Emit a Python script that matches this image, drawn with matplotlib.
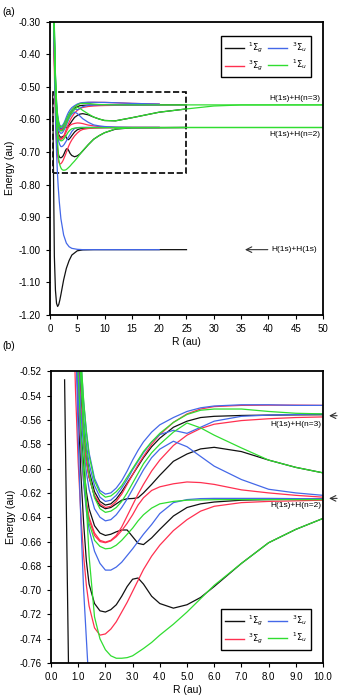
import numpy as np
import matplotlib
matplotlib.use('Agg')
import matplotlib.pyplot as plt
from matplotlib.patches import Rectangle
from matplotlib.lines import Line2D

plt.rcParams['font.family'] = ['Liberation Sans', 'DejaVu Sans']
plt.rcParams['axes.unicode_minus'] = False

nan = np.nan

# internuclear distance grid (au) used by the excited states
R = [0.7, 0.8, 0.9, 1.0, 1.1, 1.2, 1.3, 1.4, 1.6, 1.8,
     2.0, 2.2, 2.4, 2.6, 2.8, 3.0, 3.2, 3.4, 3.7, 4.0,
     4.5, 5.0, 5.5, 6.0, 7.0, 8.0, 9.0, 10.0, 12.0, 15.0,
     20.0, 25.0, 30.0, 35.0, 50.0]

# ground state X 1Sigma_g
R_X = [0.5, 0.8, 1.0, 1.2, 1.4, 1.6, 1.8, 2.0, 2.5, 3.0, 3.5, 4.0, 5.0, 6.0, 8.0, 10.0, 15.0, 20.0, 25.0]
E_X = [-0.527, -1.020, -1.1245, -1.1649, -1.1745, -1.1686, -1.1551, -1.1381, -1.0929, -1.0573,
       -1.0336, -1.0166, -1.0035, -1.0008, -1.0, -1.0, -1.0, -1.0, -1.0]

# repulsive b 3Sigma_u
R_b = [0.9, 1.0, 1.1, 1.2, 1.35, 1.5, 1.7, 2.0, 2.5, 3.0, 3.5, 4.0, 5.0, 6.0, 8.0, 10.0, 15.0, 20.0]
E_b = [-0.48, -0.575, -0.645, -0.700, -0.760, -0.805, -0.852, -0.905, -0.955, -0.980,
       -0.991, -0.996, -0.999, -1.0, -1.0, -1.0, -1.0, -1.0]

# 1Sigma_g excited
sg1_EF = [-0.30, -0.40, -0.48, -0.55, -0.605, -0.645, -0.676, -0.695, -0.711, -0.717,
          -0.718, -0.716, -0.712, -0.705, -0.697, -0.691, -0.690, -0.695, -0.705, -0.711,
          -0.7148, -0.712, -0.706, -0.697, -0.678, -0.661, -0.650, -0.641, -0.630, -0.626,
          -0.6255, -0.625, nan, nan, nan]
sg1_GK = [-0.28, -0.38, -0.465, -0.525, -0.568, -0.598, -0.619, -0.633, -0.647, -0.653,
          -0.655, -0.654, -0.652, -0.6505, -0.6505, -0.656, -0.6615, -0.6625, -0.657, -0.650,
          -0.639, -0.632, -0.629, -0.6275, -0.626, -0.6255, -0.6252, -0.625, -0.625, -0.625,
          -0.625, -0.625, nan, nan, nan]
sg1_HH = [-0.26, -0.36, -0.445, -0.503, -0.544, -0.572, -0.593, -0.607, -0.623, -0.6305,
          -0.633, -0.632, -0.629, -0.626, -0.6248, -0.6246, -0.624, -0.620, -0.613, -0.6055,
          -0.594, -0.588, -0.5838, -0.5825, -0.586, -0.593, -0.599, -0.6035, -0.6045, -0.595,
          -0.578, -0.568, nan, nan, nan]
sg1_n3 = [-0.25, -0.35, -0.435, -0.494, -0.536, -0.566, -0.587, -0.602, -0.619, -0.627,
          -0.630, -0.629, -0.625, -0.619, -0.612, -0.605, -0.598, -0.591, -0.582, -0.575,
          -0.566, -0.561, -0.558, -0.557, -0.5563, -0.556, -0.5558, -0.5557, -0.5556, -0.5556,
          -0.5556, -0.5556, nan, nan, nan]

# 3Sigma_g
sg3_a = [-0.27, -0.37, -0.452, -0.508, -0.547, -0.574, -0.594, -0.607, -0.622, -0.629,
         -0.632, -0.631, -0.627, -0.621, -0.613, -0.605, -0.597, -0.590, -0.580, -0.572,
         -0.562, -0.555, -0.551, -0.549, -0.548, -0.5478, -0.5478, -0.548, -0.549, -0.551,
         -0.553, nan, nan, nan, nan]
sg3_b = [-0.30, -0.40, -0.48, -0.538, -0.578, -0.607, -0.627, -0.640, -0.653, -0.659,
         -0.6605, -0.659, -0.655, -0.648, -0.639, -0.630, -0.621, -0.613, -0.602, -0.593,
         -0.581, -0.5725, -0.567, -0.5635, -0.5605, -0.559, -0.558, -0.5575, -0.557, -0.5563,
         -0.556, nan, nan, nan, nan]
sg3_c = [-0.31, -0.41, -0.488, -0.544, -0.583, -0.611, -0.630, -0.642, -0.655, -0.660,
         -0.661, -0.6595, -0.656, -0.651, -0.645, -0.638, -0.630, -0.624, -0.618, -0.615,
         -0.6125, -0.611, -0.6115, -0.613, -0.6175, -0.620, -0.622, -0.6235, -0.6245, -0.625,
         -0.625, nan, nan, nan, nan]
sg3_d = [-0.34, -0.45, -0.535, -0.595, -0.639, -0.672, -0.696, -0.713, -0.731, -0.737,
         -0.736, -0.732, -0.726, -0.718, -0.710, -0.701, -0.692, -0.683, -0.672, -0.663,
         -0.651, -0.642, -0.635, -0.631, -0.628, -0.627, -0.6265, -0.626, -0.6255, -0.625,
         -0.625, nan, nan, nan, nan]

# 3Sigma_u excited
su3_a = [-0.22, -0.32, -0.405, -0.466, -0.511, -0.545, -0.569, -0.587, -0.608, -0.618,
         -0.621, -0.620, -0.616, -0.610, -0.602, -0.593, -0.585, -0.578, -0.570, -0.564,
         -0.558, -0.553, -0.550, -0.5485, -0.5475, -0.5475, -0.548, -0.548, -0.549, -0.551,
         -0.553, nan, nan, nan, nan]
su3_b = [-0.24, -0.34, -0.425, -0.485, -0.528, -0.558, -0.580, -0.596, -0.614, -0.6235,
         -0.627, -0.626, -0.622, -0.616, -0.609, -0.601, -0.594, -0.587, -0.578, -0.572,
         -0.5685, -0.571, -0.566, -0.561, -0.557, -0.556, -0.5555, -0.555, -0.5555, -0.5556,
         -0.5556, nan, nan, nan, nan]
su3_c = [-0.27, -0.37, -0.455, -0.514, -0.555, -0.583, -0.603, -0.617, -0.633, -0.640,
         -0.643, -0.642, -0.638, -0.632, -0.625, -0.617, -0.609, -0.601, -0.591, -0.584,
         -0.5775, -0.582, -0.590, -0.598, -0.609, -0.617, -0.620, -0.622, -0.624, -0.625,
         -0.625, nan, nan, nan, nan]
su3_d = [-0.31, -0.41, -0.49, -0.540, -0.580, -0.612, -0.635, -0.650, -0.668, -0.678,
         -0.6835, -0.6835, -0.681, -0.677, -0.6715, -0.666, -0.660, -0.654, -0.646, -0.637,
         -0.628, -0.6255, -0.6247, -0.6245, -0.6245, -0.6245, -0.6247, -0.625, -0.625, -0.625,
         -0.625, nan, nan, nan, nan]

# 1Sigma_u
su1_B = [-0.25, -0.34, -0.41, -0.47, -0.515, -0.575, -0.63, -0.672, -0.722, -0.740,
         -0.749, -0.754, -0.756, -0.756, -0.7555, -0.754, -0.751, -0.748, -0.743, -0.737,
         -0.728, -0.718, -0.707, -0.696, -0.678, -0.661, -0.650, -0.641, -0.629, -0.626,
         -0.6255, -0.625, -0.625, -0.625, -0.625]
su1_C = [-0.25, -0.36, -0.455, -0.522, -0.571, -0.606, -0.630, -0.645, -0.659, -0.664,
         -0.666, -0.6655, -0.663, -0.659, -0.654, -0.649, -0.643, -0.638, -0.6325, -0.629,
         -0.627, -0.626, -0.6258, -0.6256, -0.6255, -0.6255, -0.6255, -0.6255, -0.6252, -0.625,
         -0.625, -0.625, -0.625, -0.625, -0.625]
su1_BB = [-0.21, -0.32, -0.415, -0.48, -0.527, -0.562, -0.587, -0.604, -0.624, -0.633,
          -0.636, -0.635, -0.632, -0.627, -0.620, -0.612, -0.604, -0.596, -0.587, -0.580,
          -0.570, -0.5625, -0.5665, -0.5725, -0.583, -0.593, -0.599, -0.6035, -0.6045, -0.595,
          -0.578, -0.568, -0.559, -0.5558, -0.5556]
su1_D = [-0.20, -0.31, -0.40, -0.463, -0.509, -0.544, -0.570, -0.589, -0.610, -0.620,
         -0.6235, -0.6225, -0.619, -0.614, -0.607, -0.600, -0.593, -0.586, -0.578, -0.571,
         -0.562, -0.5555, -0.552, -0.551, -0.551, -0.553, -0.5545, -0.555, -0.5555, -0.5556,
         -0.5556, -0.5556, -0.5556, -0.5556, -0.5556]

c_sg1 = '#111111'
c_sg3 = '#ff3050'
c_su3 = '#4468e8'
c_su1 = '#30dd30'

groups = [
    (c_sg1, [(R_X, E_X), (R, sg1_EF), (R, sg1_GK), (R, sg1_HH), (R, sg1_n3)]),
    (c_sg3, [(R, sg3_a), (R, sg3_b), (R, sg3_c), (R, sg3_d)]),
    (c_su3, [(R_b, E_b), (R, su3_a), (R, su3_b), (R, su3_c), (R, su3_d)]),
    (c_su1, [(R, su1_B), (R, su1_C), (R, su1_BB), (R, su1_D)]),
]

legend_labels = [r'$^1\Sigma_g$', r'$^3\Sigma_g$', r'$^3\Sigma_u$', r'$^1\Sigma_u$']
legend_colors = [c_sg1, c_sg3, c_su3, c_su1]

fig = plt.figure(figsize=(3.4, 6.98), dpi=100)
ax1 = fig.add_axes([0.147, 0.549, 0.803, 0.420])
ax2 = fig.add_axes([0.150, 0.050, 0.800, 0.418])

for ax in (ax1, ax2):
    for color, curves in groups:
        for x, y in curves:
            ax.plot(x, y, color=color, lw=0.9)
    for s in ax.spines.values():
        s.set_linewidth(1.3)
    ax.tick_params(labelsize=7, length=3, width=0.8)
    ax.set_xlabel('R (au)', fontsize=7.5, labelpad=2)
    ax.set_ylabel('Energy (au)', fontsize=7.5, labelpad=3)

# panel (a)
ax1.set_xlim(0, 50)
ax1.set_ylim(-1.20, -0.30)
ax1.set_xticks(np.arange(0, 51, 5))
ax1.set_yticks(np.arange(-1.20, -0.295, 0.10))
ax1.set_yticklabels(['%.2f' % v for v in np.arange(-1.20, -0.295, 0.10)])
ax1.add_patch(Rectangle((0.6, -0.765), 24.4, 0.25, fill=False, ls='--', lw=1.2, color='black'))
ax1.text(49.6, -0.537, 'H(1s)+H(n=3)', ha='right', va='center', fontsize=6)
ax1.text(49.6, -0.647, 'H(1s)+H(n=2)', ha='right', va='center', fontsize=6)
ax1.annotate('', xy=(35.2, -1.0), xytext=(40.4, -1.0),
             arrowprops=dict(arrowstyle='->', color='#333333', lw=0.8))
ax1.text(40.6, -1.0, 'H(1s)+H(1s)', ha='left', va='center', fontsize=6)

# panel (b)
ax2.set_xlim(0, 10)
ax2.set_ylim(-0.76, -0.52)
ax2.set_xticks(np.arange(0, 10.1, 1))
ax2.set_xticklabels(['%.1f' % v for v in np.arange(0, 10.1, 1)])
yt = np.arange(-0.76, -0.519, 0.02)
ax2.set_yticks(yt)
ax2.set_yticklabels(['%.2f' % v for v in yt])
for ylev, ytxt, txt in [(-0.5565, -0.5636, 'H(1s)+H(n=3)'), (-0.6245, -0.6307, 'H(1s)+H(n=2)')]:
    ax2.annotate('', xy=(10.12, ylev), xytext=(10.62, ylev), annotation_clip=False,
                 arrowprops=dict(arrowstyle='->', color='#333333', lw=0.8))
    ax2.text(9.95, ytxt, txt, ha='right', va='center', fontsize=6)

handles = [Line2D([], [], color=c, lw=1.0) for c in legend_colors]
leg_kw = dict(ncol=2, fontsize=6, frameon=True, fancybox=False, edgecolor='black', framealpha=1,
              handlelength=2.3, columnspacing=0.6, handletextpad=0.5, borderpad=0.5,
              labelspacing=0.4)
leg1 = ax1.legend(handles, legend_labels, loc='upper right', bbox_to_anchor=(0.97, 0.965), **leg_kw)
leg1.get_frame().set_linewidth(1.0)
leg2 = ax2.legend(handles, legend_labels, loc='lower right', bbox_to_anchor=(0.97, 0.03), **leg_kw)
leg2.get_frame().set_linewidth(1.0)

fig.text(0.008, 0.990, '(a)', fontsize=7.5, va='top', ha='left')
fig.text(0.008, 0.512, '(b)', fontsize=7.5, va='top', ha='left')

fig.savefig('out.png', dpi=100)
